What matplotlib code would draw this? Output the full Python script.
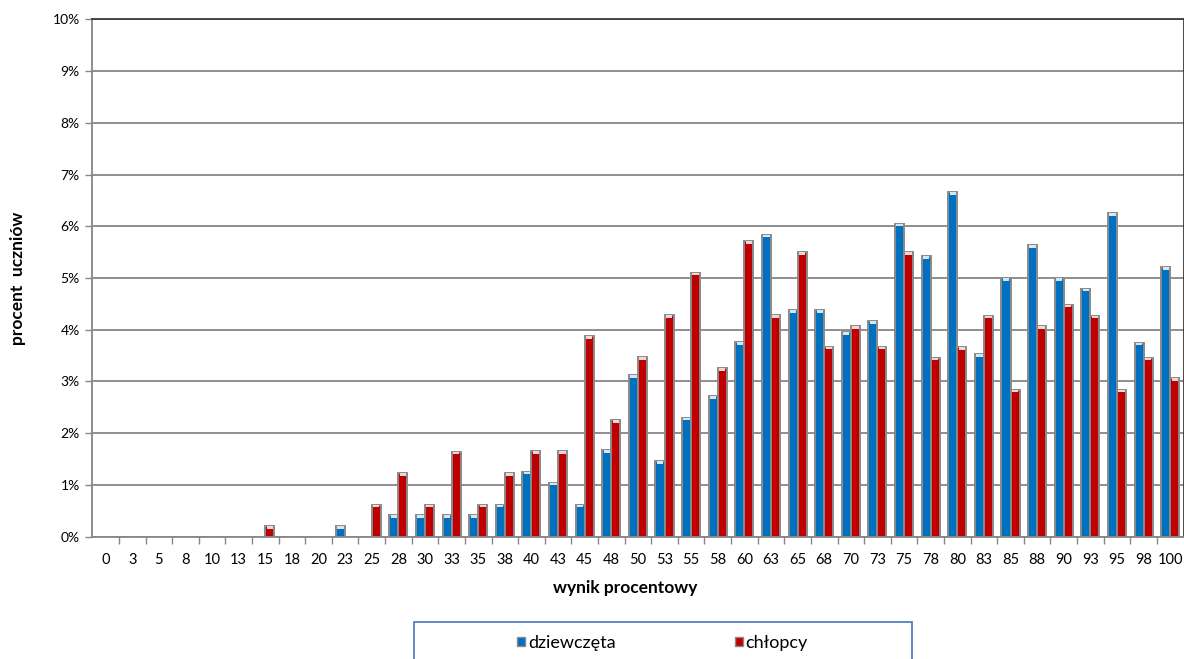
import matplotlib
matplotlib.use("Agg")
import matplotlib.pyplot as plt
from matplotlib.patches import Patch, Rectangle
from matplotlib.ticker import FixedLocator, PercentFormatter
import numpy as np

plt.rcParams['font.family'] = ['Lato', 'DejaVu Sans']

# wynik procentowy (kategorie na osi X)
categories = ['0', '3', '5', '8', '10', '13', '15', '18', '20', '23', '25', '28', '30', '33',
              '35', '38', '40', '43', '45', '48', '50', '53', '55', '58', '60', '63', '65',
              '68', '70', '73', '75', '78', '80', '83', '85', '88', '90', '93', '95', '98', '100']

# procent uczniów
dziewczeta = [0, 0, 0, 0, 0, 0, 0, 0, 0, 0.2, 0, 0.42, 0.42, 0.42,
              0.42, 0.62, 1.26, 1.04, 0.62, 1.67, 3.12, 1.46, 2.3, 2.71, 3.76, 5.84, 4.38,
              4.38, 3.95, 4.16, 6.05, 5.42, 6.66, 3.53, 5.0, 5.63, 5.0, 4.79, 6.25, 3.75, 5.21]
chlopcy = [0, 0, 0, 0, 0, 0, 0.2, 0, 0, 0, 0.62, 1.23, 0.62, 1.64,
           0.62, 1.23, 1.65, 1.65, 3.87, 2.25, 3.47, 4.28, 5.1, 3.26, 5.71, 4.28, 5.5,
           3.67, 4.07, 3.67, 5.5, 3.46, 3.66, 4.27, 2.84, 4.07, 4.48, 4.27, 2.84, 3.46, 3.06]

blue = '#0070c0'
red = '#c00000'
edge = '#8a8a8a'

fig = plt.figure(figsize=(11.84, 6.59), dpi=100)
ax = fig.add_axes([92.3 / 1184, 1 - 536.7 / 659, (1183.5 - 92.3) / 1184, (536.7 - 19.3) / 659])

x = np.arange(len(categories))
w = 0.34
d = np.array(dziewczeta)
c = np.array(chlopcy)
ax.bar(x - w / 2, d, w, color=blue, edgecolor=edge, linewidth=1.4, zorder=3)
ax.bar(x + w / 2, c, w, color=red, edgecolor=edge, linewidth=1.4, zorder=3)

# jasne "czapki" na szczytach słupków (efekt walca)
cap = 0.05
mask_d = d > 0
mask_c = c > 0
ax.bar((x - w / 2)[mask_d], cap, w * 0.7, bottom=d[mask_d] - cap, color='#d8e6f2',
       linewidth=0, zorder=4)
ax.bar((x + w / 2)[mask_c], cap, w * 0.7, bottom=c[mask_c] - cap, color='#f0d8d8',
       linewidth=0, zorder=4)

ax.set_xlim(-0.5, len(categories) - 0.5)
ax.set_ylim(0, 10)
ax.set_yticks(np.arange(0, 11, 1))
ax.yaxis.set_major_formatter(PercentFormatter(decimals=0))
ax.yaxis.grid(True, color='#868686', linewidth=1.3, zorder=0)
ax.set_axisbelow(True)

ax.set_xticks(x)
ax.set_xticklabels(categories)
ax.xaxis.set_minor_locator(FixedLocator(np.arange(0.5, len(categories) - 0.5, 1)))
ax.tick_params(axis='x', which='major', length=0, pad=12, labelsize=10.5, colors='black')
ax.tick_params(axis='x', which='minor', length=5, width=1, color='#868686')
ax.tick_params(axis='y', length=5, width=1, color='#868686', labelsize=10, pad=4)

for s in ['left', 'bottom']:
    ax.spines[s].set_color('#868686')
    ax.spines[s].set_linewidth(1.3)
for s in ['top', 'right']:
    ax.spines[s].set_color('#3a3a3a')
    ax.spines[s].set_linewidth(1.3)

fig.text(18 / 1184, 1 - 278 / 659, 'procent  uczniów', rotation=90, ha='center', va='center',
         fontsize=12.5, fontweight='bold')
fig.text(625 / 1184, 1 - 588 / 659, 'wynik procentowy', ha='center', va='center',
         fontsize=12.5, fontweight='bold')

# legenda w ramce uciętej dolną krawędzią obrazka
fig.patches.append(Rectangle((414 / 1184, -0.1), (912 - 414) / 1184, (1 - 621.7 / 659) + 0.1,
                             transform=fig.transFigure, fill=False, edgecolor='#4f81bd',
                             linewidth=1.3))
handles = [Patch(facecolor=blue, edgecolor=edge, linewidth=1, label='dziewczęta'),
           Patch(facecolor=red, edgecolor=edge, linewidth=1, label='chłopcy')]
fig.legend(handles=handles, loc='center left', bbox_to_anchor=(517 / 1184, 1 - 643 / 659),
           ncol=2, frameon=False, fontsize=13, handlelength=0.45, handleheight=0.45,
           handletextpad=0.15, columnspacing=6.6, borderpad=0, borderaxespad=0)

fig.savefig('out.png', dpi=100)
